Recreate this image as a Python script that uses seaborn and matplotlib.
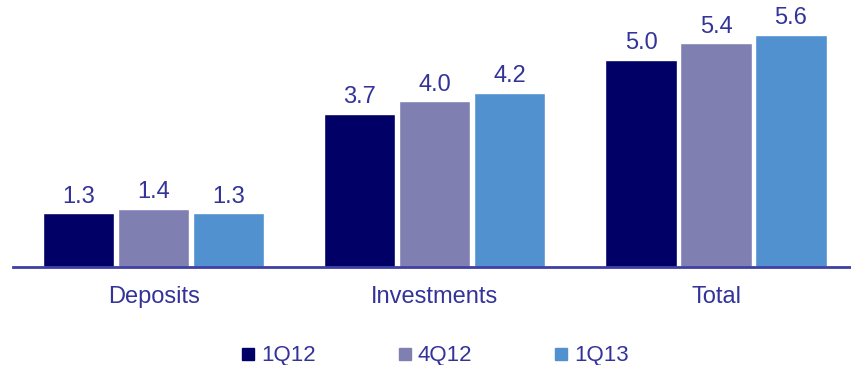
import matplotlib
matplotlib.use("Agg")
import matplotlib.pyplot as plt
from matplotlib.lines import Line2D
import seaborn as sns
import pandas as pd

categories = ["Deposits", "Investments", "Total"]
periods = ["1Q12", "4Q12", "1Q13"]
values_1q12 = [1.3, 3.7, 5.0]
values_4q12 = [1.4, 4.0, 5.4]
values_1q13 = [1.3, 4.2, 5.6]
colors = ["#000066", "#7F7FB2", "#5191CF"]
text_color = "#333399"

sns.set_theme(style="white")
plt.rcParams["font.family"] = ["Liberation Sans", "DejaVu Sans"]

df = pd.DataFrame({
    "category": categories * 3,
    "period": [p for p in periods for _ in categories],
    "value": values_1q12 + values_4q12 + values_1q13,
})

fig = plt.figure(figsize=(8.51, 3.65), dpi=100)
ax = fig.add_axes([13 / 851, 98 / 365, 1 - 13 / 851, 257 / 365])

sns.barplot(data=df, x="category", y="value", hue="period", order=categories,
            hue_order=periods, palette=colors, width=0.8, gap=0.05,
            saturation=1, ax=ax, legend=False)

for cont in ax.containers:
    ax.bar_label(cont, fmt="%.1f", padding=4, fontsize=17, color=text_color)

ax.set_xlim(-0.5, 2.48)
ax.set_ylim(0, 6.2)
ax.set_xlabel("")
ax.set_ylabel("")
ax.set_yticks([])
for side in ["top", "left", "right"]:
    ax.spines[side].set_visible(False)
ax.spines["bottom"].set_color("#3F3FA5")
ax.spines["bottom"].set_linewidth(2)
ax.tick_params(axis="x", length=0, pad=14, labelsize=17, labelcolor=text_color)

handles = [Line2D([], [], marker="s", linestyle="none", markersize=9,
                  markerfacecolor=c, markeredgecolor=c) for c in colors]
fig.legend(handles, periods, loc="center", bbox_to_anchor=(0.51, 0.025),
           ncol=3, frameon=False, fontsize=16, labelcolor=text_color,
           handletextpad=0.2, columnspacing=3.6, handlelength=0.8)

fig.savefig("out.png", dpi=100)
